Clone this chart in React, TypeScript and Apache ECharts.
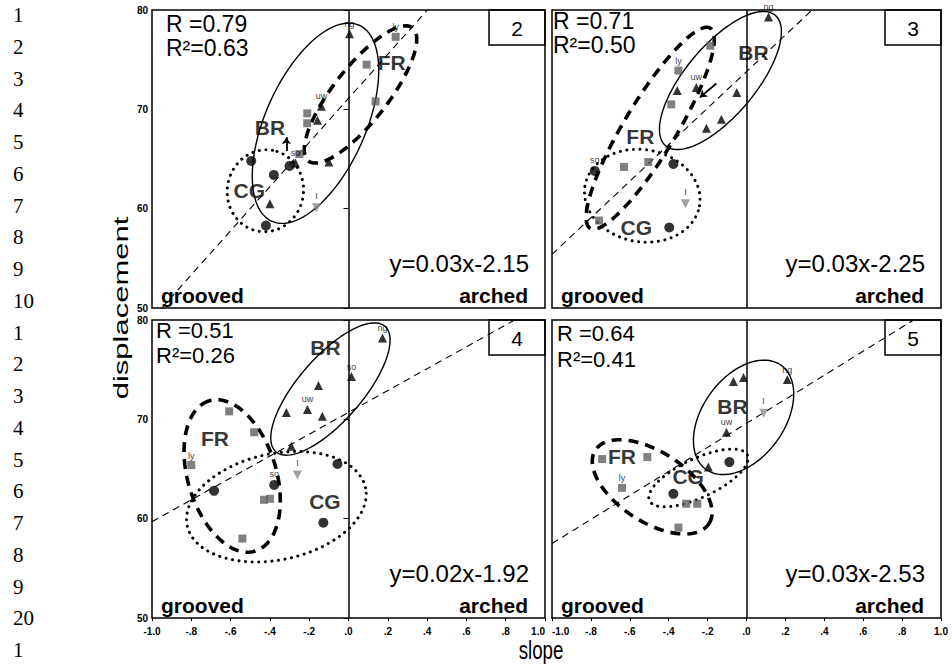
import React, { useEffect, useRef } from "react";
import * as echarts from "echarts";

// ---- data ---------------------------------------------------------------
// points are [slope, displacement, tag]
type Pt = [number, number, string];
// ellipse: [centre slope, centre displacement, semi-major, semi-minor (both in slope units), tilt in degrees]
type Ell = [number, number, number, number, number];

const PANEL_NUMBERS = ["2", "3", "4", "5"];
const R_TEXT = ["R =0.79", "R =0.71", "R =0.51", "R =0.64"];
const R2_TEXT = ["R\u00b2=0.63", "R\u00b2=0.50", "R\u00b2=0.26", "R\u00b2=0.41"];
const EQUATIONS = ["y=0.03x-2.15", "y=0.03x-2.25", "y=0.02x-1.92", "y=0.03x-2.53"];
const SLOPE_TICKS = ["-1.0", "-.8", "-.6", "-.4", "-.2", ".0", ".2", ".4", ".6", ".8", "1.0"];
const LINE_NUMBERS = ["1", "2", "3", "4", "5", "6", "7", "8", "9", "10", "1", "2", "3", "4", "5", "6", "7", "8", "9", "20", "1"];

// dashed trend line: displacement = intercept + gradient * slope
const TREND_INTERCEPT = [71.1, 73.8, 70.7, 69.6];
const TREND_GRADIENT = [22.2, 18.4, 11.0, 12.1];

// BR: triangles
const BR_POINTS: Pt[][] = [
  [[0.005, 77.6, "ng"], [-0.138, 70.3, "uw"], [-0.158, 68.9, ""], [-0.4, 60.5, ""], [-0.1, 64.7, ""], [-0.27, 64.6, "so"]],
  [[0.113, 79.3, "ng"], [-0.258, 72.2, "uw"], [-0.356, 71.9, ""], [-0.05, 71.7, ""], [-0.129, 69.0, ""], [-0.206, 68.1, ""]],
  [[0.173, 78.2, "ng"], [0.015, 74.3, "so"], [-0.153, 73.4, ""], [-0.209, 71.0, "uw"], [-0.316, 70.7, ""], [-0.133, 70.3, ""], [-0.291, 67.3, ""]],
  [[-0.067, 73.8, ""], [-0.015, 74.2, ""], [0.21, 74.0, "ng"], [-0.103, 68.7, "uw"], [-0.196, 65.2, ""]],
];
// FR: grey squares
const FR_POINTS: Pt[][] = [
  [[0.24, 77.3, "ly"], [0.092, 74.5, ""], [0.138, 70.8, ""], [-0.21, 69.6, ""], [-0.21, 68.6, ""], [-0.25, 65.5, ""]],
  [[-0.186, 76.4, ""], [-0.35, 73.9, "ly"], [-0.387, 70.5, ""], [-0.505, 64.7, ""], [-0.63, 64.2, ""], [-0.758, 58.8, ""]],
  [[-0.607, 70.8, ""], [-0.48, 68.7, ""], [-0.8, 65.4, "ly"], [-0.43, 61.9, ""], [-0.4, 62.0, ""], [-0.54, 58.0, ""]],
  [[-0.742, 66.0, ""], [-0.51, 66.2, ""], [-0.64, 63.1, "ly"], [-0.31, 61.5, ""], [-0.253, 61.5, ""], [-0.35, 59.1, ""]],
];
// CG: black dots
const CG_POINTS: Pt[][] = [
  [[-0.495, 64.8, ""], [-0.38, 63.4, ""], [-0.3, 64.3, ""], [-0.42, 58.3, ""]],
  [[-0.78, 63.8, "so"], [-0.376, 64.5, ""], [-0.397, 58.1, ""]],
  [[-0.056, 65.5, ""], [-0.684, 62.8, ""], [-0.378, 63.4, "so"], [-0.128, 59.6, ""]],
  [[-0.088, 65.7, ""], [-0.376, 62.5, ""]],
];
// I: grey inverted triangle
const I_POINTS: Pt[][] = [
  [[-0.163, 60.1, "I"]],
  [[-0.314, 60.5, "I"]],
  [[-0.26, 64.4, "I"]],
  [[0.088, 70.6, "I"]],
];

const BR_ELLIPSES: Ell[] = [
  [-0.168, 68.6, 0.546, 0.255, 66],
  [-0.134, 72.9, 0.438, 0.18, 50],
  [-0.092, 73.05, 0.423, 0.163, 49],
  [-0.015, 70.2, 0.33, 0.21, 54],
];
const FR_ELLIPSES: Ell[] = [
  [0.061, 71.5, 0.43, 0.138, 52],
  [-0.495, 68.1, 0.6, 0.134, 59],
  [-0.592, 64.3, 0.4, 0.225, 107],
  [-0.485, 63.2, 0.348, 0.18, -33],
];
const CG_ELLIPSES: Ell[] = [
  [-0.423, 61.8, 0.209, 0.194, 80],
  [-0.536, 61.3, 0.299, 0.237, -10],
  [-0.367, 61.2, 0.464, 0.27, 12],
  [-0.247, 64.1, 0.278, 0.1, 25],
];

const GROUP_NAMES = ["BR", "FR", "CG"];
const GROUP_LABEL_AT: [number, number][][] = [
  [[-0.4, 68.2], [0.22, 74.7], [-0.505, 61.8]],
  [[0.036, 75.7], [-0.546, 67.3], [-0.567, 58.1]],
  [[-0.117, 77.2], [-0.68, 68.1], [-0.12, 61.7]],
  [[-0.072, 71.3], [-0.64, 66.3], [-0.3, 64.2]],
];
// small pointer arrows [from, to]
const ARROWS: [number, number][][][] = [
  [[[-0.316, 65.8], [-0.316, 67.2]]],
  [[[-0.155, 72.6], [-0.24, 71.2]]],
  [],
  [],
];

// ---- layout ---------------------------------------------------------------
const GRID_RECTS = [
  { left: 152, top: 10, width: 393, height: 298 },
  { left: 552, top: 10, width: 389, height: 298 },
  { left: 152, top: 320, width: 393, height: 298 },
  { left: 552, top: 320, width: 389, height: 298 },
];
const R_OFFSET = [
  { dx: 14, y1: 24, y2: 48 },
  { dx: 1, y1: 21, y2: 45 },
  { dx: 4, y1: 330, y2: 355 },
  { dx: 5, y1: 333, y2: 359 },
];
const SANS = "Liberation Sans";

function ellipseRenderer(style: any) {
  return (params: any, api: any) => {
    const c = api.coord([api.value(0), api.value(1)]);
    const unit = api.size([1, 0])[0];
    const A = api.value(2) * unit;
    const B = api.value(3) * unit;
    const th = (api.value(4) * Math.PI) / 180;
    const pts: number[][] = [];
    const n = 120;
    for (let k = 0; k <= n; k++) {
      const t = (2 * Math.PI * k) / n;
      const ex = A * Math.cos(t);
      const ey = B * Math.sin(t);
      pts.push([
        c[0] + ex * Math.cos(th) - ey * Math.sin(th),
        c[1] - (ex * Math.sin(th) + ey * Math.cos(th)),
      ]);
    }
    return {
      type: "polyline",
      shape: { points: pts },
      silent: true,
      style: { fill: "none", stroke: "#000", ...style },
    };
  };
}

const toItems = (pts: Pt[]) => pts.map((p) => ({ value: [p[0], p[1]], name: p[2] }));

const tagLabel = {
  show: true,
  formatter: "{b}",
  position: "top" as const,
  distance: 1,
  fontSize: 9,
  color: "#000",
  textBorderWidth: 0,
  fontFamily: SANS,
};

function buildOption() {
  const series: any[] = [];
  GRID_RECTS.forEach((_, i) => {
    const axes = { xAxisIndex: i, yAxisIndex: i };
    const ellStyles: [Ell, any][] = [
      [BR_ELLIPSES[i], { lineWidth: 1.4 }],
      [FR_ELLIPSES[i], { lineWidth: 3.6, lineDash: [10, 7] }],
      [CG_ELLIPSES[i], { lineWidth: 3, lineDash: [0.1, 6.5], lineCap: "round" }],
    ];
    ellStyles.forEach(([e, st]) => {
      series.push({
        type: "custom",
        ...axes,
        renderItem: ellipseRenderer(st),
        data: [e],
        encode: { x: 0, y: 1 },
        z: 2,
        silent: true,
      });
    });

    const c = TREND_INTERCEPT[i];
    const m = TREND_GRADIENT[i];
    const xLo = Math.max(-1, (50 - c) / m);
    const xHi = Math.min(1, (80 - c) / m);
    series.push({
      type: "line",
      ...axes,
      data: [
        [xLo, c + m * xLo],
        [xHi, c + m * xHi],
      ],
      showSymbol: false,
      symbol: "none",
      silent: true,
      z: 2,
      lineStyle: { color: "#000", width: 1.1, type: [7, 5] },
      markLine: {
        silent: true,
        symbol: "none",
        label: { show: false },
        lineStyle: { color: "#000", width: 1.5, type: "solid" },
        data: [{ xAxis: 0 }],
      },
    });

    series.push({
      type: "scatter",
      ...axes,
      symbol: "triangle",
      symbolSize: 9,
      itemStyle: { color: "#000" },
      label: tagLabel,
      data: toItems(BR_POINTS[i]),
      z: 4,
    });
    series.push({
      type: "scatter",
      ...axes,
      symbol: "rect",
      symbolSize: 8,
      itemStyle: { color: "#606060" },
      label: tagLabel,
      data: toItems(FR_POINTS[i]),
      z: 4,
    });
    series.push({
      type: "scatter",
      ...axes,
      symbol: "circle",
      symbolSize: 10,
      itemStyle: { color: "#000" },
      label: tagLabel,
      data: toItems(CG_POINTS[i]),
      z: 4,
    });
    series.push({
      type: "scatter",
      ...axes,
      symbol: "triangle",
      symbolRotate: 180,
      symbolSize: 9,
      itemStyle: { color: "#8c8c8c" },
      label: { ...tagLabel, distance: 3 },
      data: toItems(I_POINTS[i]),
      z: 4,
    });

    series.push({
      type: "scatter",
      ...axes,
      symbol: "circle",
      symbolSize: 1,
      itemStyle: { color: "transparent" },
      silent: true,
      z: 5,
      label: {
        show: true,
        position: "inside",
        formatter: "{b}",
        fontSize: 21,
        fontWeight: "bold",
        color: "#000",
        textBorderWidth: 0,
        fontFamily: SANS,
      },
      data: GROUP_LABEL_AT[i].map((p, k) => ({ value: p, name: GROUP_NAMES[k] })),
      markLine: {
        silent: true,
        symbol: ["none", "arrow"],
        symbolSize: 7,
        label: { show: false },
        lineStyle: { color: "#000", width: 1.8, type: "solid" },
        data: ARROWS[i].map((a) => [{ coord: a[0] }, { coord: a[1] }]),
      },
    });
  });

  const graphic: any[] = [];
  LINE_NUMBERS.forEach((t, k) => {
    graphic.push({
      type: "text",
      x: 13,
      y: 15 + k * 31.75,
      style: { text: t, fontSize: 21, fontFamily: "Liberation Serif", fill: "#000", align: "left", verticalAlign: "middle" },
    });
  });
  graphic.push({
    type: "text",
    x: 121,
    y: 308,
    rotation: Math.PI / 2,
    scaleY: 0.64,
    style: { text: "displacement", fontSize: 31, fontFamily: SANS, fill: "#000", align: "center", verticalAlign: "middle" },
  });
  graphic.push({
    type: "text",
    x: 541,
    y: 650,
    scaleX: 0.72,
    style: { text: "slope", fontSize: 26, fontFamily: SANS, fill: "#000", align: "center", verticalAlign: "middle" },
  });

  GRID_RECTS.forEach((r, i) => {
    const right = r.left + r.width;
    const bottom = r.top + r.height;
    const o = R_OFFSET[i];
    const rSize = i >= 2 ? 22 : 23;
    graphic.push({
      type: "text",
      x: r.left + o.dx,
      y: o.y1,
      style: { text: R_TEXT[i], fontSize: rSize, fontFamily: SANS, fill: "#000", align: "left", verticalAlign: "middle" },
    });
    graphic.push({
      type: "text",
      x: r.left + o.dx,
      y: o.y2,
      style: { text: R2_TEXT[i], fontSize: rSize, fontFamily: SANS, fill: "#000", align: "left", verticalAlign: "middle" },
    });
    graphic.push({
      type: "text",
      x: right - 16,
      y: bottom - 45,
      style: { text: EQUATIONS[i], fontSize: 24, fontFamily: SANS, fill: "#000", align: "right", verticalAlign: "middle" },
    });
    graphic.push({
      type: "text",
      x: r.left + 9,
      y: bottom - 13,
      style: { text: "grooved", fontSize: 21, fontWeight: "bold", fontFamily: SANS, fill: "#000", align: "left", verticalAlign: "middle" },
    });
    graphic.push({
      type: "text",
      x: right - 17,
      y: bottom - 13,
      style: { text: "arched", fontSize: 21, fontWeight: "bold", fontFamily: SANS, fill: "#000", align: "right", verticalAlign: "middle" },
    });
    graphic.push({
      type: "rect",
      shape: { x: right - 56, y: r.top, width: 56, height: 35 },
      style: { fill: "none", stroke: "#000", lineWidth: 1.5 },
    });
    graphic.push({
      type: "text",
      x: right - 28,
      y: r.top + 18,
      style: { text: PANEL_NUMBERS[i], fontSize: 21, fontFamily: SANS, fill: "#000", align: "center", verticalAlign: "middle" },
    });
  });

  return {
    animation: false,
    backgroundColor: "#fff",
    textStyle: { fontFamily: SANS },
    grid: GRID_RECTS.map((r) => ({ ...r, show: true, borderColor: "#000", borderWidth: 1.5, backgroundColor: "#fff" })),
    xAxis: GRID_RECTS.map((_, i) => ({
      type: "value",
      gridIndex: i,
      min: -1,
      max: 1,
      interval: 0.2,
      axisLine: { show: false },
      splitLine: { show: false },
      axisTick: { show: i >= 2, length: 3, lineStyle: { color: "#000" } },
      axisLabel: {
        show: i >= 2,
        margin: 8,
        fontSize: 10,
        fontWeight: "bold",
        color: "#000",
        fontFamily: SANS,
        alignMinLabel: i === 3 ? "left" : "center",
        alignMaxLabel: i === 2 ? "right" : "center",
        formatter: (v: number) => SLOPE_TICKS[Math.round((v + 1) / 0.2)] ?? "",
      },
    })),
    yAxis: GRID_RECTS.map((_, i) => ({
      type: "value",
      gridIndex: i,
      min: 50,
      max: 80,
      interval: 10,
      axisLine: { show: false },
      splitLine: { show: false },
      axisTick: { show: i % 2 === 0, length: 5, lineStyle: { color: "#000" } },
      axisLabel: { show: i % 2 === 0, margin: 4, fontSize: 10, fontWeight: "bold", color: "#000", fontFamily: SANS },
    })),
    series,
    graphic,
  };
}

export default function App() {
  const ref = useRef<HTMLDivElement>(null);
  useEffect(() => {
    if (!ref.current) return;
    const chart = echarts.init(ref.current, undefined, { renderer: "svg" });
    chart.setOption(buildOption() as any);
    return () => chart.dispose();
  }, []);
  return (
    <div
      ref={ref}
      style={{ position: "fixed", left: 0, top: 0, width: 952, height: 668, background: "#fff" }}
    />
  );
}
